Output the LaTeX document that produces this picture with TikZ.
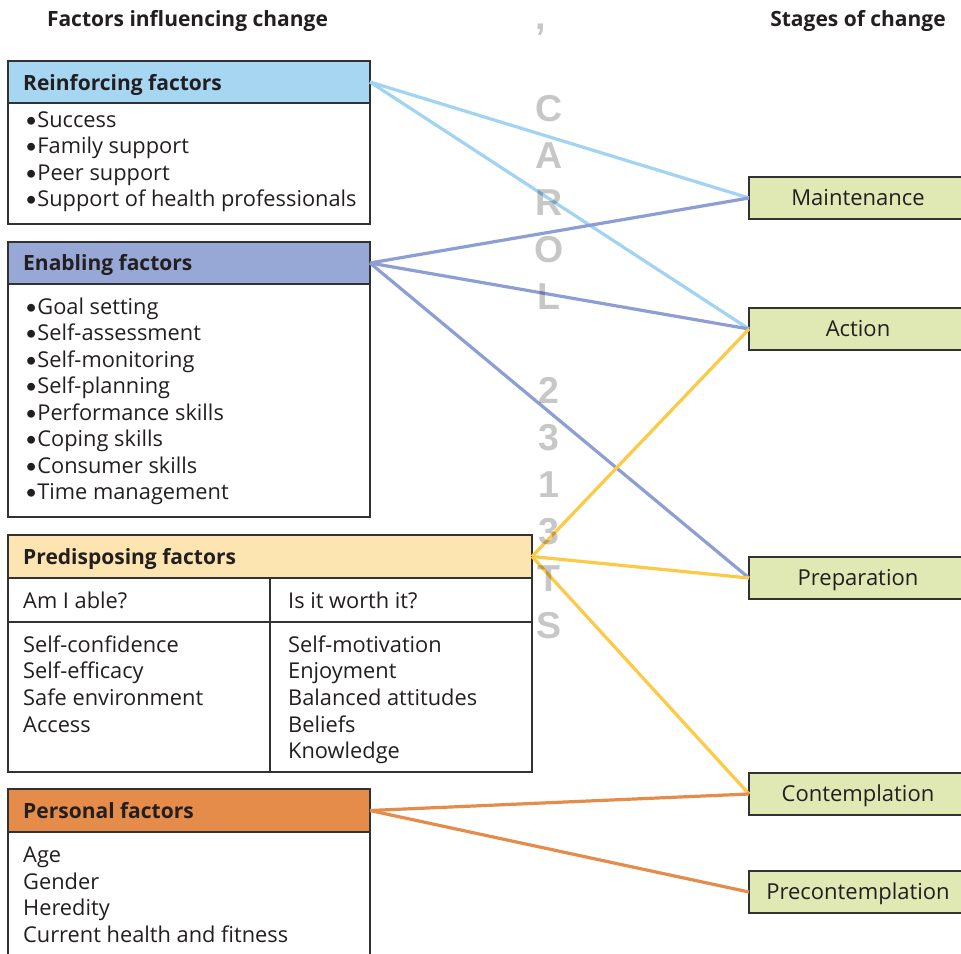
\documentclass[tikz,border=0pt]{standalone}
\usepackage{fontspec}
\setmainfont{Open Sans}
\newfontfamily\markfont{Liberation Sans}
\newfontfamily\dotfont{Lato}
\newcommand{\dotmark}{{\dotfont\fontsize{21}{26}\selectfont•}}
\definecolor{ink}{RGB}{35,31,32}
\definecolor{boxline}{RGB}{50,50,50}
\definecolor{reinfill}{RGB}{166,214,242}
\definecolor{reinline}{RGB}{160,212,242}
\definecolor{enabfill}{RGB}{152,168,214}
\definecolor{enabline}{RGB}{140,158,212}
\definecolor{predfill}{RGB}{253,229,178}
\definecolor{predline}{RGB}{253,202,70}
\definecolor{persfill}{RGB}{229,140,75}
\definecolor{persline}{RGB}{229,140,75}
\definecolor{stagefill}{RGB}{224,232,180}
\begin{document}
\begin{tikzpicture}[x=1pt,y=-1pt,
  frame/.style={draw=boxline, line width=1.2pt},
  hdrbox/.style={draw=boxline, line width=1.2pt, anchor=north west, inner sep=0pt, outer sep=0pt},
  hdrtext/.style={anchor=base west, inner sep=0pt, text=ink, font=\fontsize{21}{26}\selectfont\bfseries},
  title/.style={anchor=base, inner sep=0pt, text=ink, font=\fontsize{21}{26}\selectfont\bfseries},
  item/.style={anchor=base west, inner sep=0pt, text=ink, font=\fontsize{21.8}{26}\selectfont},
  stage/.style={draw=boxline, line width=1.2pt, fill=stagefill, anchor=north west, inner sep=0pt,
    outer sep=0pt, minimum width=218, minimum height=42, text height=17pt, text depth=2pt,
    text=ink, font=\fontsize{22}{26}\selectfont},
  link/.style={line width=3.2pt},
  stampchar/.style={anchor=base, inner sep=0pt, text=black, text opacity=0.22,
    font=\fontsize{37.5}{40}\selectfont\markfont\bfseries}
]
\clip (0,0) rectangle (961,953);
\fill[white] (0,0) rectangle (961,953);

% column titles
\node[title] (lefttitle) at (187.5,27) {Factors influencing change};
\node[title] (righttitle) at (858,27) {Stages of change};

% stages of change
\node[stage] (maint) at (749,177) {Maintenance};
\node[stage] (action) at (749,308) {Action};
\node[stage] (prep) at (749,557) {Preparation};
\node[stage] (contemp) at (749,773) {Contemplation};
\node[stage] (precont) at (749,871) {Precontemplation};

% reinforcing factors
\draw[frame] (8,61) rectangle (370,224);
\node[hdrbox, fill=reinfill, minimum width=362, minimum height=42] (reinf) at (8,61) {};
\node[hdrtext] (reinftext) at (23,90) {Reinforcing factors};
\foreach \t [count=\i] in {Success, Family support, Peer support, Support of health professionals}
  \node[item] (reinf-\i) at (25,{127+26.5*(\i-1)}) {\dotmark\t};

% enabling factors
\draw[frame] (8,242) rectangle (370,517);
\node[hdrbox, fill=enabfill, minimum width=362, minimum height=42] (enab) at (8,242) {};
\node[hdrtext] (enabtext) at (23,270) {Enabling factors};
\foreach \t [count=\i] in {Goal setting, Self-assessment, Self-monitoring, Self-planning,
    Performance skills, Coping skills, Consumer skills, Time management}
  \node[item] (enab-\i) at (25,{314+26.57*(\i-1)}) {\dotmark\t};

% predisposing factors
\draw[frame] (8,535) rectangle (532,772);
\draw[frame] (8,622) -- (532,622);
\draw[frame] (270,578) -- (270,772);
\node[hdrbox, fill=predfill, minimum width=524, minimum height=43] (pred) at (8,535) {};
\node[hdrtext] (predtext) at (23,564) {Predisposing factors};
\node[item] (able) at (23,608) {Am I able?};
\node[item] (worth) at (288,608) {Is it worth it?};
\foreach \t [count=\i] in {Self-confidence, Self-efficacy, Safe environment, Access}
  \node[item] (able-\i) at (23,{652+26.7*(\i-1)}) {\t};
\foreach \t [count=\i] in {Self-motivation, Enjoyment, Balanced attitudes, Beliefs, Knowledge}
  \node[item] (worth-\i) at (288,{652+26.7*(\i-1)}) {\t};

% personal factors
\draw[frame] (8,789) rectangle (370,970);
\node[hdrbox, fill=persfill, minimum width=362, minimum height=43] (pers) at (8,789) {};
\node[hdrtext] (perstext) at (23,818) {Personal factors};
\foreach \t [count=\i] in {Age, Gender, Heredity, Current health and fitness}
  \node[item] (pers-\i) at (23,{862.5+26.6*(\i-1)}) {\t};

% links from factors to stages
\draw[link, reinline] (reinf.east) -- (maint.west);
\draw[link, reinline] (reinf.east) -- (action.west);
\draw[link, enabline] (enab.east) -- (maint.west);
\draw[link, enabline] (enab.east) -- (action.west);
\draw[link, enabline] (enab.east) -- (prep.west);
\draw[link, predline] (pred.east) -- (action.west);
\draw[link, predline] (pred.east) -- (prep.west);
\draw[link, predline] (pred.east) -- (contemp.west);
\draw[link, persline] (pers.east) -- (contemp.west);
\draw[link, persline] (pers.east) -- (precont.west);

% vertical stamp
\node[stampchar] (stamp-0) at (541,29.5) {,};
\foreach \c/\k [count=\i] in {C/0, A/1, R/2, O/3, L/4, 2/6, 3/7, 1/8, 3/9, T/10, S/11}
  \node[stampchar] (stamp-\i) at (549,{121.5+47*\k}) {\c};
\end{tikzpicture}
\end{document}
